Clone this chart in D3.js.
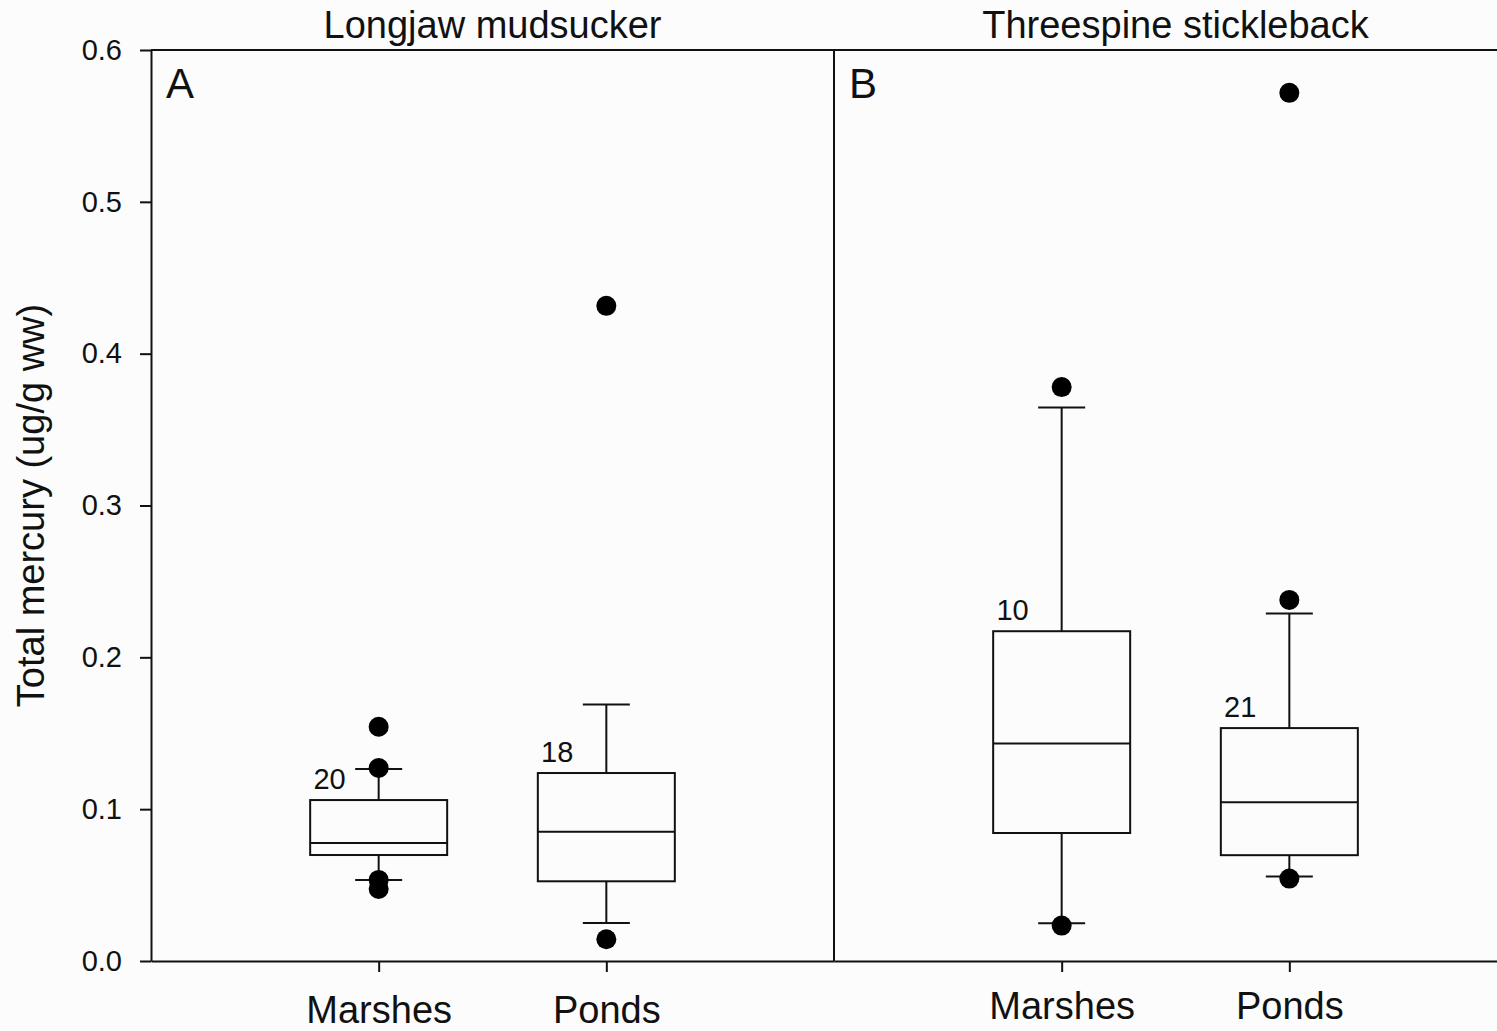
<!DOCTYPE html>
<html>
<head>
<meta charset="utf-8">
<script src="https://cdn.jsdelivr.net/npm/d3@7"></script>
<style>
  html, body { margin: 0; padding: 0; background: #fcfcfc; overflow: hidden; }
  svg { display: block; }
  text { font-family: "Liberation Sans", Arial, sans-serif; fill: #111; }
</style>
</head>
<body>
<script>
// data (ug/g ww)
var panelTitles = ["Longjaw mudsucker", "Threespine stickleback"];
var panelLetters = ["A", "B"];
var groups = ["Marshes", "Ponds"];
var counts = [[20, 18], [10, 21]];
var q1 = [[0.0698, 0.0525], [0.0843, 0.0697]];
var medians = [[0.0777, 0.0852], [0.1433, 0.1045]];
var q3 = [[0.1060, 0.1238], [0.2172, 0.1534]];
var whiskerLow = [[0.0534, 0.0250], [0.0248, 0.0556]];
var whiskerHigh = [[0.1265, 0.1689], [0.3646, 0.2288]];
var outliers = [
    [[0.1543, 0.1271, 0.0534, 0.0474], [0.4315, 0.0143]],
    [[0.3780, 0.0233], [0.5718, 0.2378, 0.0543]]
];
var yTicks = [0, 0.1, 0.2, 0.3, 0.4, 0.5, 0.6];

var width = 1497;
var height = 1031;
var plotTop = 50, plotBottom = 961, plotLeft = 151;
var panelW = 683;
var labelDrop = [62, 58]; // x label baseline below axis, per panel

var svg = d3.select("body")
    .append("svg")
    .attr("width", width)
    .attr("height", height);

var y = d3.scaleLinear().domain([0, 0.6]).range([plotBottom, plotTop]);

// y axis
var yAxis = svg.append("g")
    .attr("transform", "translate(" + plotLeft + ",0)")
    .call(d3.axisLeft(y).tickValues(yTicks).tickFormat(d3.format(".1f"))
        .tickSize(11).tickSizeOuter(0).tickPadding(18));
yAxis.selectAll("path, line").attr("stroke", "#111").attr("stroke-width", 2);
yAxis.selectAll("text").attr("font-size", 29).attr("font-family", "Liberation Sans, Arial, sans-serif")
    .attr("fill", "#111");

svg.append("text")
    .attr("transform", "translate(44," + ((plotTop + plotBottom) / 2) + ") rotate(-90)")
    .attr("text-anchor", "middle")
    .attr("font-size", 38)
    .text("Total mercury (ug/g ww)");

// top frame line
svg.append("line")
    .attr("x1", plotLeft).attr("x2", plotLeft + 2 * panelW)
    .attr("y1", plotTop).attr("y2", plotTop)
    .attr("stroke", "#111").attr("stroke-width", 2);

for (var p = 0; p < 2; p++) {
    var x0 = plotLeft + p * panelW;
    var x = d3.scalePoint().domain(groups).range([x0, x0 + panelW]).padding(1);

    var xAxis = svg.append("g")
        .attr("transform", "translate(0," + plotBottom + ")")
        .call(d3.axisBottom(x).tickSize(11).tickSizeOuter(0));
    xAxis.selectAll("path, line").attr("stroke", "#111").attr("stroke-width", 2);
    xAxis.selectAll("text")
        .attr("y", labelDrop[p]).attr("dy", 0)
        .attr("font-size", 38).attr("font-family", "Liberation Sans, Arial, sans-serif")
        .attr("fill", "#111");

    // divider between panels
    if (p === 1) {
        svg.append("line")
            .attr("x1", x0).attr("x2", x0)
            .attr("y1", plotTop).attr("y2", plotBottom)
            .attr("stroke", "#111").attr("stroke-width", 2);
    }

    svg.append("text")
        .attr("x", x0 + panelW / 2).attr("y", 38)
        .attr("text-anchor", "middle")
        .attr("font-size", 38)
        .text(panelTitles[p]);

    svg.append("text")
        .attr("x", x0 + 15).attr("y", 98)
        .attr("font-size", 42)
        .text(panelLetters[p]);

    var boxW = 137, capW = 47;
    groups.forEach(function (g, i) {
        var cx = x(g);
        var gg = svg.append("g");
        // whiskers
        gg.append("line")
            .attr("x1", cx).attr("x2", cx)
            .attr("y1", y(q3[p][i])).attr("y2", y(whiskerHigh[p][i]));
        gg.append("line")
            .attr("x1", cx).attr("x2", cx)
            .attr("y1", y(q1[p][i])).attr("y2", y(whiskerLow[p][i]));
        gg.append("line")
            .attr("x1", cx - capW / 2).attr("x2", cx + capW / 2)
            .attr("y1", y(whiskerHigh[p][i])).attr("y2", y(whiskerHigh[p][i]));
        gg.append("line")
            .attr("x1", cx - capW / 2).attr("x2", cx + capW / 2)
            .attr("y1", y(whiskerLow[p][i])).attr("y2", y(whiskerLow[p][i]));
        // box
        gg.append("rect")
            .attr("x", cx - boxW / 2).attr("width", boxW)
            .attr("y", y(q3[p][i])).attr("height", y(q1[p][i]) - y(q3[p][i]))
            .attr("fill", "none");
        gg.append("line")
            .attr("x1", cx - boxW / 2).attr("x2", cx + boxW / 2)
            .attr("y1", y(medians[p][i])).attr("y2", y(medians[p][i]));
        gg.selectAll("line, rect").attr("stroke", "#111").attr("stroke-width", 2);

        // outliers
        gg.selectAll("circle")
            .data(outliers[p][i])
            .enter()
            .append("circle")
            .attr("cx", cx)
            .attr("cy", function (d) { return y(d); })
            .attr("r", 10)
            .attr("fill", "#000");

        // n label
        svg.append("text")
            .attr("x", cx - 33).attr("y", y(q3[p][i]) - 11)
            .attr("text-anchor", "end")
            .attr("font-size", 29)
            .text(counts[p][i]);
    });
}
</script>
</body>
</html>
